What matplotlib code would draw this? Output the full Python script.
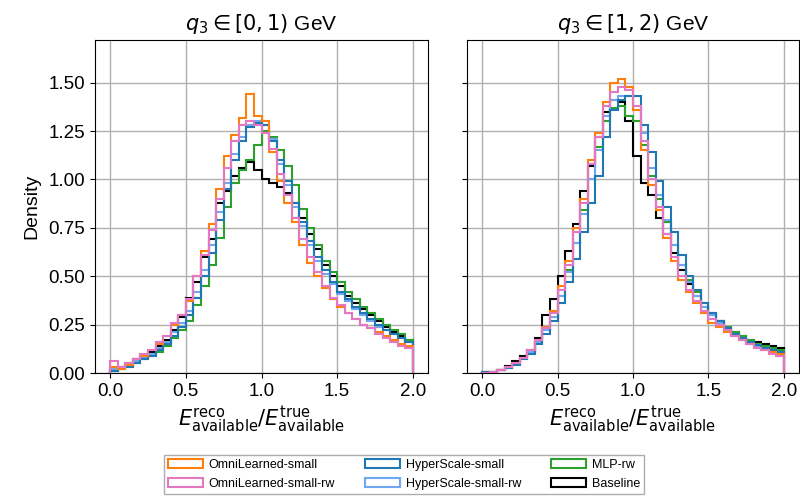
import numpy as np
import matplotlib
matplotlib.use("Agg")
import matplotlib.pyplot as plt

plt.rcParams['font.family'] = ['Liberation Sans', 'DejaVu Sans']
plt.rcParams['mathtext.fontset'] = 'dejavusans'

# ============================================================
# Data: densities per bin (40 bins on [0, 2])
# ============================================================
EDGES = np.linspace(0.0, 2.0, 41)
CENTERS = 0.5 * (EDGES[:-1] + EDGES[1:])

LABELS = ["OmniLearned-small", "OmniLearned-small-rw", "HyperScale-small",
          "HyperScale-small-rw", "MLP-rw", "Baseline"]
COLORS = ["#ff7f0e", "#e377c2", "#1f77b4", "#6fa8f0", "#2ca02c", "black"]
TITLES = [r"$q_3 \in [0, 1)$ GeV", r"$q_3 \in [1, 2)$ GeV"]

# q3 in [0, 1)
omni_L = [0.03, 0.02, 0.04, 0.07, 0.09, 0.12, 0.15, 0.19, 0.25, 0.30,
          0.37, 0.50, 0.63, 0.77, 0.95, 1.12, 1.23, 1.32, 1.44, 1.33,
          1.30, 1.14, 0.99, 0.88, 0.78, 0.66, 0.57, 0.50, 0.44, 0.38,
          0.34, 0.31, 0.28, 0.25, 0.23, 0.21, 0.19, 0.17, 0.15, 0.14]
omni_rw_L = [0.06, 0.03, 0.05, 0.07, 0.10, 0.12, 0.16, 0.19, 0.26, 0.30,
             0.38, 0.50, 0.61, 0.74, 0.90, 1.06, 1.20, 1.28, 1.30, 1.28,
             1.24, 1.16, 1.03, 0.92, 0.80, 0.69, 0.60, 0.52, 0.45, 0.39,
             0.35, 0.31, 0.28, 0.25, 0.23, 0.20, 0.18, 0.16, 0.14, 0.13]
hyper_L = [0.01, 0.02, 0.03, 0.05, 0.07, 0.09, 0.12, 0.15, 0.19, 0.24,
           0.30, 0.39, 0.50, 0.62, 0.79, 0.95, 1.10, 1.20, 1.27, 1.29,
           1.28, 1.20, 1.10, 0.99, 0.88, 0.78, 0.68, 0.60, 0.53, 0.47,
           0.42, 0.38, 0.34, 0.31, 0.28, 0.25, 0.22, 0.20, 0.18, 0.16]
hyper_rw_L = [0.02, 0.03, 0.04, 0.06, 0.08, 0.10, 0.13, 0.16, 0.21, 0.26,
              0.32, 0.42, 0.53, 0.66, 0.83, 0.98, 1.13, 1.22, 1.28, 1.30,
              1.28, 1.21, 1.08, 0.97, 0.86, 0.76, 0.66, 0.58, 0.51, 0.46,
              0.41, 0.37, 0.33, 0.30, 0.27, 0.24, 0.22, 0.20, 0.18, 0.16]
mlp_L = [0.01, 0.02, 0.03, 0.05, 0.07, 0.09, 0.11, 0.14, 0.18, 0.22,
         0.27, 0.35, 0.45, 0.56, 0.70, 0.86, 0.98, 1.05, 1.10, 1.18,
         1.25, 1.22, 1.15, 1.07, 0.97, 0.85, 0.75, 0.66, 0.58, 0.52,
         0.47, 0.42, 0.38, 0.34, 0.31, 0.28, 0.25, 0.22, 0.20, 0.17]
base_L = [0.01, 0.03, 0.05, 0.07, 0.09, 0.11, 0.14, 0.17, 0.22, 0.29,
          0.39, 0.47, 0.60, 0.69, 0.88, 0.94, 1.02, 1.06, 1.09, 1.05,
          1.00, 0.98, 0.96, 0.93, 0.88, 0.80, 0.72, 0.64, 0.56, 0.50,
          0.45, 0.40, 0.36, 0.33, 0.30, 0.27, 0.24, 0.21, 0.19, 0.17]

# q3 in [1, 2)
omni_R = [0.002, 0.006, 0.015, 0.03, 0.05, 0.08, 0.12, 0.17, 0.24, 0.32,
          0.45, 0.58, 0.75, 0.90, 1.10, 1.24, 1.40, 1.50, 1.52, 1.48,
          1.36, 1.15, 0.97, 0.84, 0.70, 0.58, 0.48, 0.42, 0.36, 0.31,
          0.26, 0.24, 0.21, 0.19, 0.17, 0.15, 0.13, 0.12, 0.11, 0.10]
omni_rw_R = [0.002, 0.006, 0.015, 0.03, 0.05, 0.08, 0.12, 0.17, 0.23, 0.31,
             0.43, 0.56, 0.73, 0.88, 1.08, 1.22, 1.38, 1.45, 1.48, 1.46,
             1.38, 1.20, 1.00, 0.86, 0.72, 0.60, 0.50, 0.43, 0.37, 0.32,
             0.28, 0.25, 0.22, 0.19, 0.17, 0.15, 0.13, 0.12, 0.10, 0.09]
hyper_R = [0.003, 0.005, 0.014, 0.026, 0.04, 0.07, 0.10, 0.15, 0.20, 0.27,
           0.36, 0.47, 0.59, 0.73, 0.88, 1.02, 1.22, 1.36, 1.41, 1.43,
           1.43, 1.28, 1.14, 0.99, 0.86, 0.73, 0.61, 0.50, 0.43, 0.36,
           0.31, 0.27, 0.23, 0.20, 0.18, 0.16, 0.145, 0.13, 0.12, 0.11]
hyper_rw_R = [0.003, 0.006, 0.015, 0.028, 0.045, 0.075, 0.11, 0.16, 0.22, 0.29,
              0.40, 0.52, 0.67, 0.82, 1.00, 1.15, 1.33, 1.41, 1.43, 1.43,
              1.38, 1.24, 1.06, 0.92, 0.79, 0.66, 0.56, 0.47, 0.40, 0.34,
              0.30, 0.26, 0.23, 0.20, 0.18, 0.16, 0.14, 0.13, 0.12, 0.10]
mlp_R = [0.003, 0.006, 0.015, 0.028, 0.045, 0.075, 0.11, 0.16, 0.22, 0.29,
         0.40, 0.53, 0.67, 0.84, 1.00, 1.17, 1.30, 1.37, 1.38, 1.33,
         1.30, 1.18, 1.02, 0.90, 0.78, 0.66, 0.56, 0.48, 0.42, 0.36,
         0.31, 0.27, 0.24, 0.21, 0.19, 0.17, 0.15, 0.14, 0.13, 0.12]
base_R = [0.003, 0.007, 0.017, 0.035, 0.06, 0.087, 0.12, 0.18, 0.30, 0.38,
          0.50, 0.63, 0.77, 0.94, 1.07, 1.22, 1.35, 1.41, 1.40, 1.30,
          1.12, 0.98, 0.92, 0.80, 0.72, 0.62, 0.53, 0.46, 0.40, 0.34,
          0.30, 0.27, 0.24, 0.21, 0.19, 0.17, 0.16, 0.15, 0.14, 0.13]

PANELS = [
    [omni_L, omni_rw_L, hyper_L, hyper_rw_L, mlp_L, base_L],
    [omni_R, omni_rw_R, hyper_R, hyper_rw_R, mlp_R, base_R],
]
DRAW_ORDER = [5, 4, 3, 2, 0, 1]

# ============================================================
# Plot
# ============================================================
fig = plt.figure(figsize=(8.0, 4.99), dpi=100)
ax_l = fig.add_axes([0.11875, 0.2525, 0.41625, 0.667])
ax_r = fig.add_axes([0.58375, 0.2525, 0.415, 0.667], sharey=ax_l)

handles = {}
for ax, series, title in zip([ax_l, ax_r], PANELS, TITLES):
    for i in DRAW_ORDER:
        _, _, patches = ax.hist(CENTERS, bins=EDGES, weights=series[i],
                                histtype="step", color=COLORS[i],
                                linewidth=1.5, label=LABELS[i])
        handles[i] = patches[0]
    ax.set_title(title, fontsize=15, pad=7)
    ax.set_xlabel(r"$E^{\rm reco}_{\rm available}/E^{\rm true}_{\rm available}$",
                  fontsize=15, labelpad=3)
    ax.set_xlim(-0.1, 2.1)
    ax.set_xticks([0.0, 0.5, 1.0, 1.5, 2.0])
    ax.tick_params(labelsize=13.5)
    ax.grid(True, color="#b0b0b0", linewidth=1.0)
    ax.set_axisbelow(True)

ax_l.set_ylim(0, 1.72)
ax_l.set_yticks([0.0, 0.25, 0.5, 0.75, 1.0, 1.25, 1.5])
ax_l.set_yticklabels([f"{v:.2f}" for v in ax_l.get_yticks()])
ax_l.set_ylabel("Density", fontsize=14, labelpad=6)
ax_r.tick_params(labelleft=False)

fig.legend([handles[i] for i in range(6)], LABELS, loc="lower center",
           bbox_to_anchor=(0.505, -0.003), ncol=3, fontsize=9,
           handlelength=2.8, columnspacing=2.4, handletextpad=0.45,
           labelspacing=0.55, borderpad=0.35, fancybox=False,
           edgecolor="#999999")

fig.savefig("out.png", dpi=100)
